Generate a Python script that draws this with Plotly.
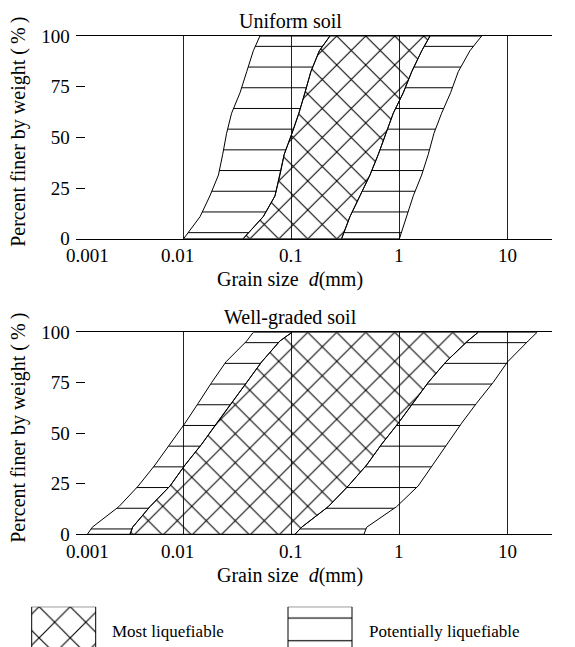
import math
import plotly.graph_objects as go

W, H = 575, 647

# ---------------- data ----------------
tick_vals = [0.001, 0.01, 0.1, 1, 10]
tick_text = ["0.001", "0.01", "0.1", "1", "10"]
y_ticks = [0, 25, 50, 75, 100]

# Uniform soil: percent finer levels and grain sizes (mm) of the four boundaries
uniform_pct = [0, 10.9, 21.1, 31.4, 41.6, 52.0, 61.9, 72.0, 82.4, 92.7, 100]
uniform_outer_left = [0.0100, 0.0142, 0.0175, 0.0210, 0.0230, 0.0250, 0.0278, 0.0333, 0.0384, 0.0442, 0.0509]
uniform_inner_left = [0.0356, 0.0547, 0.0702, 0.0781, 0.0855, 0.1009, 0.117, 0.133, 0.151, 0.181, 0.227]
uniform_inner_right = [0.291, 0.348, 0.430, 0.533, 0.637, 0.750, 0.877, 1.085, 1.30, 1.61, 1.92]
uniform_outer_right = [1.00, 1.166, 1.343, 1.607, 1.85, 2.09, 2.46, 2.98, 3.51, 4.50, 5.78]

# Well-graded soil
graded_pct = [0, 3.5, 13.7, 23.9, 34.3, 44.6, 55.0, 64.9, 75.2, 85.4, 95.7, 100]
graded_outer_left = [0.00128, 0.00142, 0.00251, 0.00379, 0.00542, 0.00747, 0.01028, 0.01365, 0.0182, 0.0247, 0.0384, 0.0442]
graded_inner_left = [0.00318, 0.00336, 0.00487, 0.00747, 0.0103, 0.01468, 0.0202, 0.0279, 0.0384, 0.0529, 0.078, 0.101]
graded_inner_right = [0.1076, 0.124, 0.219, 0.335, 0.497, 0.684, 0.975, 1.343, 1.85, 2.70, 4.29, 5.37]
graded_outer_right = [0.469, 0.497, 0.942, 1.49, 2.06, 2.77, 3.77, 5.19, 7.40, 10.07, 15.6, 18.9]

panel_titles = ["Uniform soil", "Well-graded soil"]
legend_labels = ["Most liquefiable", "Potentially liquefiable"]

# ---------------- styling ----------------
FONT = "Liberation Serif"
INK = "black"
HATCH_H = dict(shape="-", size=20.7, solidity=0.05, fgcolor=INK, bgcolor="rgba(0,0,0,0)", fillmode="replace")
HATCH_X = dict(shape="x", size=20.5, solidity=0.1, fgcolor=INK, bgcolor="rgba(0,0,0,0)", fillmode="replace")
HATCH_H_LEG = dict(HATCH_H, size=22.7)
HATCH_X_LEG = dict(HATCH_X, size=22.0)
TICK_LABEL_XSHIFT = [12, -6, -1, 0, 0]   # per-label nudges seen in the reference

# layout geometry in page pixels (the page body adds an 8px margin)
OFF = 8
PX_L, PX_R = 75.8 - OFF, 551.7 - OFF
TOP_Y0, TOP_Y1 = 36.0 - OFF, 238.7 - OFF
BOT_Y0, BOT_Y1 = 332.3 - OFF, 534.3 - OFF
LEG_TOP, LEG_BOT = 606.7 - OFF, 647 - OFF
TITLE_CX = 290.0 - OFF


def ydom(p0, p1):
    return [1 - p1 / H, 1 - p0 / H]


fig = go.Figure()


def band(left, right, pct, pattern, xa, ya):
    xs = list(left) + list(reversed(right)) + [left[0]]
    ys = list(pct) + list(reversed(pct)) + [pct[0]]
    fig.add_trace(go.Scatter(
        x=xs, y=ys, mode="lines", fill="toself", fillcolor="rgba(0,0,0,0)",
        fillpattern=pattern, line=dict(color=INK, width=1),
        xaxis=xa, yaxis=ya, hoverinfo="skip", showlegend=False))


band(uniform_outer_left, uniform_inner_left, uniform_pct, HATCH_H, "x", "y")
band(uniform_inner_left, uniform_inner_right, uniform_pct, HATCH_X, "x", "y")
band(uniform_inner_right, uniform_outer_right, uniform_pct, HATCH_H, "x", "y")

band(graded_outer_left, graded_inner_left, graded_pct, HATCH_H, "x2", "y2")
band(graded_inner_left, graded_inner_right, graded_pct, HATCH_X, "x2", "y2")
band(graded_inner_right, graded_outer_right, graded_pct, HATCH_H, "x2", "y2")

# legend swatches (drawn on a hidden overlay axis in page pixels)
LEG_BOXES = [(31.7 - OFF, 95.7 - OFF, HATCH_X_LEG), (288.0 - OFF, 352.0 - OFF, HATCH_H_LEG)]
for x0, x1, pat in LEG_BOXES:
    fig.add_trace(go.Scatter(
        x=[x0, x1, x1, x0, x0], y=[LEG_TOP, LEG_TOP, LEG_BOT, LEG_BOT, LEG_TOP], mode="none",
        fill="toself", fillcolor="rgba(0,0,0,0)", fillpattern=pat,
        xaxis="x3", yaxis="y3", hoverinfo="skip", showlegend=False))
    fig.add_trace(go.Scatter(
        x=[x0, x0, x1, x1], y=[LEG_BOT + 2, LEG_TOP, LEG_TOP, LEG_BOT + 2], mode="lines",
        line=dict(color=INK, width=1), xaxis="x3", yaxis="y3", cliponaxis=False,
        hoverinfo="skip", showlegend=False))

xcommon = dict(
    type="log", range=[-3, 1.4116], tickvals=tick_vals, showticklabels=False,
    showgrid=True, gridcolor="#222", gridwidth=1, showline=True, linecolor=INK,
    linewidth=1, mirror=True, ticks="", zeroline=False, automargin=False,
    domain=[PX_L / W, PX_R / W])
ycommon = dict(
    range=[0, 100], tickvals=y_ticks, ticks="inside", ticklen=9, tickcolor=INK,
    tickwidth=1, showgrid=False, showline=False, zeroline=False, automargin=False,
    ticklabelstandoff=5, tickfont=dict(family=FONT, size=19, color=INK))

annotations = []
for (xa, ya), title, (y0, y1) in zip([("x", "y"), ("x2", "y2")], panel_titles,
                                      [(TOP_Y0, TOP_Y1), (BOT_Y0, BOT_Y1)]):
    cx = TITLE_CX / W
    annotations.append(dict(text=title, x=cx, y=1 - (y0 - 15) / H, xref="paper", yref="paper",
                            xanchor="center", yanchor="middle", showarrow=False,
                            font=dict(family=FONT, size=20, color=INK)))
    annotations.append(dict(text="Grain size  <i>d</i>(mm)", x=cx, y=1 - (y1 + 41) / H,
                            xref="paper", yref="paper", xanchor="center", yanchor="middle",
                            showarrow=False, font=dict(family=FONT, size=20, color=INK)))
    annotations.append(dict(text="Percent finer by weight (\u2009%\u2009)", x=(18.5 - OFF) / W,
                            y=1 - ((y0 + y1) / 2 - 5) / H, xref="paper", yref="paper",
                            xanchor="center", yanchor="middle", textangle=-90, showarrow=False,
                            font=dict(family=FONT, size=20, color=INK)))
    # x tick labels, placed on the log axis at each tick value
    for v, t, dx in zip(tick_vals, tick_text, TICK_LABEL_XSHIFT):
        annotations.append(dict(text=t, x=math.log10(v), y=0, xref=xa, yref=ya + " domain",
                                xanchor="center", yanchor="middle", xshift=dx, yshift=-17,
                                showarrow=False, font=dict(family=FONT, size=19, color=INK)))

for label, lx in zip(legend_labels, [110 - OFF, 367 - OFF]):
    annotations.append(dict(text=label, x=lx / W, y=1 - (631.7 - OFF) / H, xref="paper",
                            yref="paper", xanchor="left", yanchor="middle", showarrow=False,
                            font=dict(family=FONT, size=17, color=INK)))

fig.update_layout(
    width=W, height=H, margin=dict(l=0, r=0, t=0, b=0, pad=0), autosize=False,
    paper_bgcolor="white", plot_bgcolor="rgba(0,0,0,0)", showlegend=False,
    xaxis=dict(xcommon, anchor="y"),
    yaxis=dict(ycommon, anchor="x", domain=ydom(TOP_Y0, TOP_Y1)),
    xaxis2=dict(xcommon, anchor="y2"),
    yaxis2=dict(ycommon, anchor="x2", domain=ydom(BOT_Y0, BOT_Y1)),
    xaxis3=dict(range=[0, W], domain=[0, 1], visible=False, anchor="y3", automargin=False),
    yaxis3=dict(range=[LEG_BOT, LEG_TOP], domain=ydom(LEG_TOP, LEG_BOT), visible=False,
                anchor="x3", automargin=False),
    annotations=annotations,
)

fig.write_html("out.html")
